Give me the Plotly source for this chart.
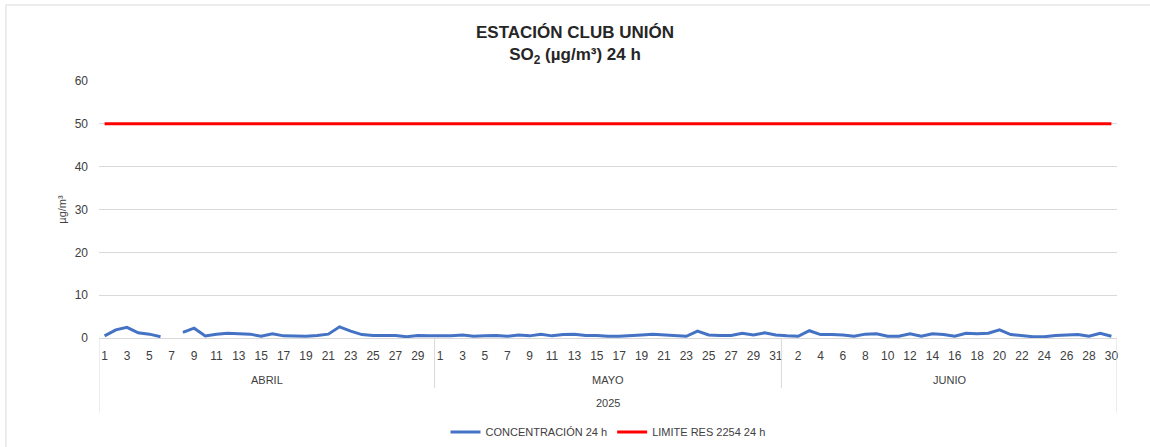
import plotly.graph_objects as go

months = ["ABRIL", "MAYO", "JUNIO"]
month_days = [30, 31, 30]
year_label = "2025"

conc_abril = [0.5, 1.9, 2.5, 1.2, 0.9, 0.3, None, 1.3, 2.3, 0.5, 0.9, 1.1, 1.0, 0.9, 0.4,
              1.0, 0.5, 0.5, 0.4, 0.6, 0.9, 2.6, 1.6, 0.8, 0.6, 0.6, 0.6, 0.3, 0.6, 0.5]
conc_mayo = [0.5, 0.5, 0.7, 0.4, 0.5, 0.6, 0.4, 0.7, 0.5, 0.9, 0.5, 0.8, 0.9, 0.6, 0.6,
             0.4, 0.4, 0.5, 0.7, 0.9, 0.7, 0.5, 0.4, 1.6, 0.7, 0.6, 0.6, 1.1, 0.7, 1.2, 0.7]
conc_junio = [0.5, 0.4, 1.7, 0.8, 0.8, 0.7, 0.4, 0.9, 1.0, 0.4, 0.4, 1.0, 0.4, 1.0, 0.8,
              0.4, 1.1, 1.0, 1.1, 1.9, 0.8, 0.6, 0.3, 0.3, 0.6, 0.7, 0.8, 0.4, 1.1, 0.4]
limite = 50

conc = conc_abril + conc_mayo + conc_junio
days = [d for n in month_days for d in range(1, n + 1)]
n = len(days)
xs = list(range(n))
lim = [limite] * n

fig = go.Figure()
fig.add_trace(go.Scatter(x=xs, y=conc, mode="lines", name="CONCENTRACIÓN 24 h",
                         line=dict(color="#4472C4", width=3), connectgaps=False))
fig.add_trace(go.Scatter(x=xs, y=lim, mode="lines", name="LIMITE RES 2254 24 h",
                         line=dict(color="#FF0000", width=3)))

tickvals = xs[::2]
ticktext = [str(days[i]) for i in tickvals]

shapes = []
annotations = []
start = 0
bounds = [-0.5]
for m, nd in zip(months, month_days):
    bounds.append(start + nd - 0.5)
    annotations.append(dict(x=start + (nd - 1) / 2, y=-0.163, xref="x", yref="paper",
                            yanchor="middle", text=m, showarrow=False,
                            font=dict(size=11, color="#404040")))
    start += nd
for i, b in enumerate(bounds):
    outer = i == 0 or i == len(bounds) - 1
    shapes.append(dict(type="line", xref="x", yref="paper", x0=b, x1=b, y0=0,
                       y1=-0.29 if outer else -0.195, line=dict(color="#D9D9D9", width=1)))
annotations.append(dict(x=(n - 1) / 2, y=-0.253, xref="x", yref="paper", yanchor="middle",
                        text=year_label, showarrow=False, font=dict(size=11, color="#404040")))
shapes.append(dict(type="rect", xref="paper", yref="paper", x0=-0.0914, x1=1.2,
                   y0=-0.6, y1=1.296, line=dict(color="#D9D9D9", width=1)))

fig.update_layout(
    width=1150, height=447,
    margin=dict(l=99, r=33, t=81, b=109, autoexpand=False),
    paper_bgcolor="white", plot_bgcolor="white",
    font=dict(family="Liberation Sans Narrow, Liberation Sans, Arial", color="#595959"),
    title=dict(text="<b>ESTACIÓN CLUB UNIÓN<br>SO<sub>2</sub> (µg/m³) 24 h</b>",
               x=0.5, xanchor="center", y=0.915, yanchor="top",
               font=dict(size=17, color="#262626", family="Liberation Sans Narrow, Liberation Sans, Arial")),
    xaxis=dict(range=[-0.5, n - 0.5], tickmode="array", tickvals=tickvals, ticktext=ticktext,
               tickangle=0, showgrid=False, zeroline=False, showline=True, linecolor="#D9D9D9",
               ticks="", tickfont=dict(size=12, color="#404040"), automargin=False,
               ticklabelstandoff=7),
    yaxis=dict(range=[0, 60], dtick=10, showgrid=True, gridcolor="#D9D9D9", zeroline=False,
               showline=False, ticks="", tickfont=dict(size=12, color="#404040"), automargin=False,
               ticklabelstandoff=10,
               title=dict(text="µg/m³", font=dict(size=11, color="#404040"), standoff=5)),
    legend=dict(orientation="h", x=0.5, xanchor="center", y=-0.366, yanchor="middle",
                font=dict(size=11, color="#404040"), itemwidth=30, tracegroupgap=0),
    shapes=shapes, annotations=annotations,
)

fig.write_html("out.html", config={"displayModeBar": False},
               post_script="document.body.style.margin='0';document.body.style.overflow='hidden';")
